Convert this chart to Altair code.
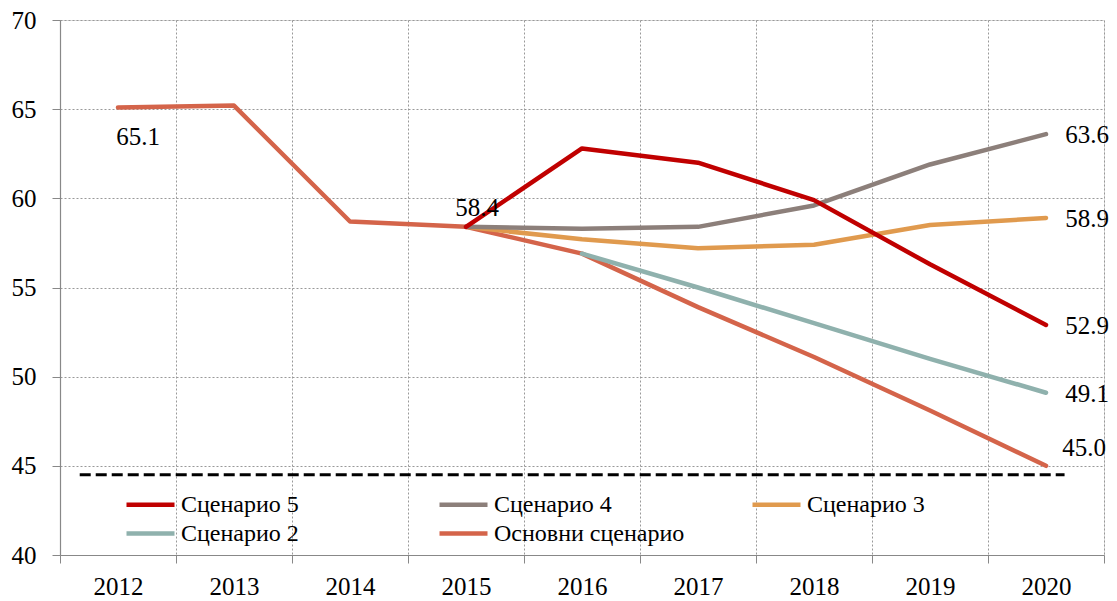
import altair as alt
import pandas as pd

# ---- data ----
years = [2012, 2013, 2014, 2015, 2016, 2017, 2018, 2019, 2020]
base = [65.1, 65.2, 58.7, 58.4, 56.9, 53.9, 51.1, 48.1, 45.0]

s5_years = [2015, 2016, 2017, 2018, 2019, 2020]
s5 = [58.4, 62.8, 62.0, 59.9, 56.3, 52.9]
s4 = [58.4, 58.3, 58.4, 59.6, 61.9, 63.6]
s3 = [58.4, 57.7, 57.2, 57.4, 58.5, 58.9]

s2_years = [2016, 2017, 2018, 2019, 2020]
s2 = [56.9, 55.0, 53.0, 51.0, 49.1]

threshold = 44.5
threshold_from = 2011.67
threshold_to = 2020.16

series_names = ["Сценарио 5", "Сценарио 4", "Сценарио 3", "Сценарио 2", "Основни сценарио"]
series_colors = ["#C00000", "#8C7F7A", "#E09A4E", "#8FB1AD", "#D4644A"]

y_ticks = [40, 45, 50, 55, 60, 65, 70]
x_bounds = [2011.5 + i for i in range(10)]

# ---- build tables ----
rows = []
for name, xs, vs in [
    ("Основни сценарио", years, base),
    ("Сценарио 2", s2_years, s2),
    ("Сценарио 3", s5_years, s3),
    ("Сценарио 4", s5_years, s4),
    ("Сценарио 5", s5_years, s5),
]:
    for x, v in zip(xs, vs):
        rows.append({"year": x, "value": v, "series": name})
df = pd.DataFrame(rows)

thr_df = pd.DataFrame({"x": [threshold_from], "x2": [threshold_to], "y": [threshold]})

FONT = "Times New Roman, Liberation Serif, DejaVu Serif, serif"

x_scale = alt.Scale(domain=[2011.5, 2020.5], nice=False, zero=False)
y_scale = alt.Scale(domain=[40, 70], nice=False, zero=False)

x_axis = alt.Axis(
    title=None,
    values=x_bounds + years,
    labelExpr="datum.value % 1 == 0 ? format(datum.value, 'd') : ''",
    labelOverlap=False,
    labelFont=FONT,
    labelFontSize=25,
    labelColor="black",
    labelPadding=11,
    domainColor="#888888",
    domainWidth=1.2,
    tickColor="#888888",
    tickSize=8,
    tickOpacity={"condition": {"test": "datum.value % 1 != 0", "value": 1}, "value": 0},
    grid=True,
    gridColor="#999999",
    gridDash=[2, 2],
    gridOpacity={"condition": {"test": "datum.value % 1 != 0", "value": 1}, "value": 0},
)

y_axis = alt.Axis(
    title=None,
    values=y_ticks,
    labelFont=FONT,
    labelFontSize=25,
    labelColor="black",
    labelPadding=16,
    domainColor="#888888",
    domainWidth=1.2,
    tickColor="#888888",
    tickSize=8,
    grid=True,
    gridColor="#999999",
    gridDash=[2, 2],
)

lines = alt.Chart(df).mark_line(strokeWidth=4.5, strokeCap="round", strokeJoin="round").encode(
    x=alt.X("year:Q", scale=x_scale, axis=x_axis),
    y=alt.Y("value:Q", scale=y_scale, axis=y_axis),
    color=alt.Color(
        "series:N",
        scale=alt.Scale(domain=series_names, range=series_colors),
        legend=alt.Legend(
            title=None,
            orient="none",
            legendX=76,
            legendY=470,
            direction="horizontal",
            columns=3,
            gridAlign="all",
            columnPadding=58,
            rowPadding=2,
            padding=0,
            symbolType="M-2,0H2",
            symbolSize=576,
            symbolStrokeWidth=4.5,
            labelFont=FONT,
            labelFontSize=24,
            labelColor="black",
            labelOffset=16,
            labelLimit=400,
        ),
    ),
    detail="series:N",
)

thr = alt.Chart(thr_df).mark_rule(color="black", strokeWidth=3, strokeDash=[11, 5]).encode(
    x=alt.X("x:Q", scale=x_scale),
    x2="x2:Q",
    y=alt.Y("y:Q", scale=y_scale),
)

text_kw = dict(font=FONT, fontSize=25, color="black")

lbl_first = alt.Chart(df[(df.series == "Основни сценарио") & (df.year == 2012)]).mark_text(
    dx=20, dy=30, **text_kw
).encode(x=alt.X("year:Q", scale=x_scale), y=alt.Y("value:Q", scale=y_scale), text=alt.Text("value:Q", format=".1f"))

lbl_2015 = alt.Chart(df[(df.series == "Основни сценарио") & (df.year == 2015)]).mark_text(
    dx=11, dy=-19, **text_kw
).encode(x=alt.X("year:Q", scale=x_scale), y=alt.Y("value:Q", scale=y_scale), text=alt.Text("value:Q", format=".1f"))

lbl_right = alt.Chart(df[(df.series != "Основни сценарио") & (df.year == 2020)]).mark_text(
    dx=41, dy=1, **text_kw
).encode(x=alt.X("year:Q", scale=x_scale), y=alt.Y("value:Q", scale=y_scale), text=alt.Text("value:Q", format=".1f"))

lbl_base_end = alt.Chart(df[(df.series == "Основни сценарио") & (df.year == 2020)]).mark_text(
    dx=38, dy=-18, **text_kw
).encode(x=alt.X("year:Q", scale=x_scale), y=alt.Y("value:Q", scale=y_scale), text=alt.Text("value:Q", format=".1f"))

chart = alt.layer(thr, lines, lbl_first, lbl_2015, lbl_right, lbl_base_end).properties(
    width=1044,
    height=535,
    autosize=alt.AutoSizeParams(type="none"),
    padding={"left": 60, "top": 20, "right": 13, "bottom": 46},
).configure_view(stroke=None).configure(background="white")

chart.save("out.html", embed_options={"renderer": "svg", "actions": False})
